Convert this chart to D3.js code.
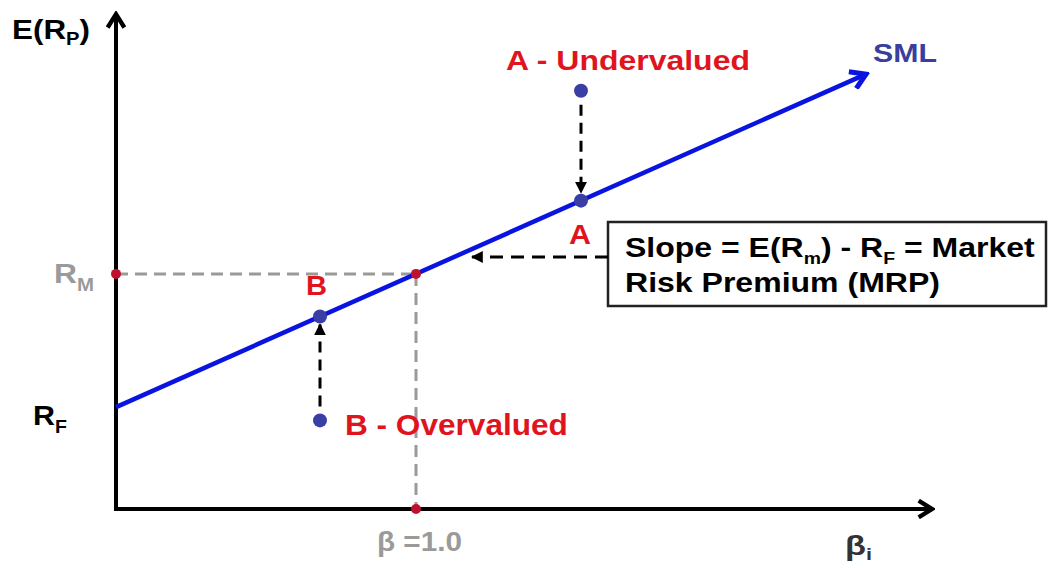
<!DOCTYPE html>
<html>
<head>
<meta charset="utf-8">
<script src="https://cdn.jsdelivr.net/npm/d3@7"></script>
<style>
  html, body { margin: 0; padding: 0; background: #fff; }
  svg { display: block; font-family: Arial, "Liberation Sans", Helvetica, sans-serif; font-weight: bold; }
</style>
</head>
<body>
<svg id="chart" width="1050" height="568"></svg>
<script>
// Security Market Line: expected return = RF + beta * (RM - RF)
const riskFree = 3;          // R_F (%)
const marketReturn = 7;      // R_M (%)
const marketBeta = 1.0;
const betaExtent = [0, 2.72];
const returnExtent = [0, 14.8];
const smlBetaRange = [0, 2.5];

// Two securities: actual expected return vs. required return on the SML
const securityNames = ["A", "B"];
const securityBetas = [1.55, 0.68];
const securityReturns = [12.5, 2.6];

const svg = d3.select("#chart");
const origin = { x: 116, y: 509 };

const x = d3.scaleLinear().domain(betaExtent).range([origin.x, 932]);
const pxPerUnit = 33.3;
const y = d3.scaleLinear()
  .domain(returnExtent)
  .range([origin.y - 2, origin.y - 2 - (returnExtent[1] - returnExtent[0]) * pxPerUnit]);

const sml = b => riskFree + b * (marketReturn - riskFree);

const defs = svg.append("defs");
function chevron(id, color, size, sw) {
  defs.append("marker")
    .attr("id", id).attr("viewBox", "0 0 12 12")
    .attr("refX", 10).attr("refY", 6)
    .attr("markerWidth", size).attr("markerHeight", size)
    .attr("markerUnits", "userSpaceOnUse")
    .attr("orient", "auto")
    .append("path").attr("d", "M2,1 L10,6 L2,11")
    .attr("fill", "none").attr("stroke", color)
    .attr("stroke-width", sw).attr("stroke-linejoin", "miter");
}
function triangle(id, color, size) {
  defs.append("marker")
    .attr("id", id).attr("viewBox", "0 0 10 10")
    .attr("refX", 9).attr("refY", 5)
    .attr("markerWidth", size).attr("markerHeight", size)
    .attr("markerUnits", "userSpaceOnUse")
    .attr("orient", "auto")
    .append("path").attr("d", "M0,0 L10,5 L0,10 Z").attr("fill", color);
}
chevron("axisArrow", "#000", 20, 2.6);
chevron("smlArrow", "#0a14e0", 22, 2.8);
triangle("blackTri", "#000", 12);

// Axes
svg.append("line")
  .attr("x1", x(0)).attr("y1", origin.y)
  .attr("x2", x(0)).attr("y2", y(returnExtent[1]))
  .attr("stroke", "#000").attr("stroke-width", 4)
  .attr("marker-end", "url(#axisArrow)");
svg.append("line")
  .attr("x1", x(0) - 2).attr("y1", origin.y)
  .attr("x2", x(betaExtent[1])).attr("y2", origin.y)
  .attr("stroke", "#000").attr("stroke-width", 4)
  .attr("marker-end", "url(#axisArrow)");

// Market reference lines (gray dashed)
const gray = "#9a9a9a";
svg.append("line")
  .attr("x1", x(0)).attr("y1", y(marketReturn))
  .attr("x2", x(marketBeta)).attr("y2", y(marketReturn))
  .attr("stroke", gray).attr("stroke-width", 3).attr("stroke-dasharray", "12,7");
svg.append("line")
  .attr("x1", x(marketBeta)).attr("y1", y(marketReturn))
  .attr("x2", x(marketBeta)).attr("y2", origin.y)
  .attr("stroke", gray).attr("stroke-width", 3).attr("stroke-dasharray", "12,7");

// SML
svg.append("line")
  .attr("x1", x(smlBetaRange[0])).attr("y1", y(sml(smlBetaRange[0])))
  .attr("x2", x(smlBetaRange[1])).attr("y2", y(sml(smlBetaRange[1])))
  .attr("stroke", "#0a14e0").attr("stroke-width", 4.5)
  .attr("marker-end", "url(#smlArrow)");

// Red market markers
const red = "#bf1030";
[[0, marketReturn], [marketBeta, marketReturn]].forEach(([b, r]) => {
  svg.append("circle").attr("cx", x(b)).attr("cy", y(r)).attr("r", 5).attr("fill", red);
});
svg.append("circle").attr("cx", x(marketBeta)).attr("cy", origin.y).attr("r", 5).attr("fill", red);

// Securities: dashed adjustment arrows and dots
const dotColor = "#3a3fa5";
securityNames.forEach((name, i) => {
  const b = securityBetas[i];
  const actual = securityReturns[i];
  const req = sml(b);
  const dir = req < actual ? 1 : -1; // down for A, up for B
  svg.append("line")
    .attr("x1", x(b)).attr("y1", y(actual) + dir * 14)
    .attr("x2", x(b)).attr("y2", y(req) - dir * 8)
    .attr("stroke", "#000").attr("stroke-width", 3)
    .attr("stroke-dasharray", "11,7")
    .attr("marker-end", "url(#blackTri)");
  svg.append("circle").attr("cx", x(b)).attr("cy", y(actual)).attr("r", 7).attr("fill", dotColor);
  svg.append("circle").attr("cx", x(b)).attr("cy", y(req)).attr("r", 7).attr("fill", dotColor);
});

// Slope annotation box
const box = { x: 608, y: 222, w: 438, h: 84 };
svg.append("rect")
  .attr("x", box.x).attr("y", box.y).attr("width", box.w).attr("height", box.h)
  .attr("fill", "#fff").attr("stroke", "#222").attr("stroke-width", 2.5);
const calloutBeta = x.invert(472);
svg.append("line")
  .attr("x1", box.x).attr("y1", 257)
  .attr("x2", x(calloutBeta)).attr("y2", 257)
  .attr("stroke", "#000").attr("stroke-width", 3)
  .attr("stroke-dasharray", "13,8")
  .attr("marker-end", "url(#blackTri)");

// Text helper: wide bold lettering stretched to a given width
function label(tx, ty, parts, size, color, width) {
  const g = svg.append("g");
  const t = g.append("text").attr("x", 0).attr("y", 0)
    .attr("font-size", size).attr("fill", color);
  parts.forEach(p => {
    if (typeof p === "string") t.append("tspan").text(p);
    else t.append("tspan").attr("font-size", p.size).attr("dy", p.dy).text(p.t);
  });
  const natural = t.node().getComputedTextLength();
  const sx = width ? width / natural : 1;
  g.attr("transform", `translate(${tx},${ty}) scale(${sx},1)`);
  return g;
}

// Axis titles
label(12, 39, ["E(R", { t: "P", size: 18, dy: 6 }, { t: ")", size: 28, dy: -6 }], 28, "#000", 78);
label(845, 555, ["β", { t: "i", size: 17, dy: 5 }], 27, "#333", 27);
label(873, 62, ["SML"], 26, "#3a3f9e", 64);

// Y markers
label(54, 283, ["R", { t: "M", size: 18, dy: 8 }], 28, "#9a9a9a", 40);
label(33, 425, ["R", { t: "F", size: 18, dy: 8 }], 28, "#000", 34);
label(377, 551, ["β =1.0"], 28, "#9a9a9a", 85);

// Security labels
label(506, 70, ["A - Undervalued"], 28, "#e0141e", 244);
label(569, 244, ["A"], 28, "#e0141e", 22);
label(306, 295, ["B"], 28, "#e0141e", 21);
label(345, 435, ["B - Overvalued"], 29, "#e0141e", 223);

// Box text
label(625, 257, ["Slope = E(R", { t: "m", size: 17, dy: 7 }, { t: ") - R", size: 28, dy: -7 }, { t: "F", size: 17, dy: 7 }, { t: " = Market", size: 28, dy: -7 }], 28, "#000", 410);
label(625, 292, ["Risk Premium (MRP)"], 28, "#000", 315);
</script>
</body>
</html>
